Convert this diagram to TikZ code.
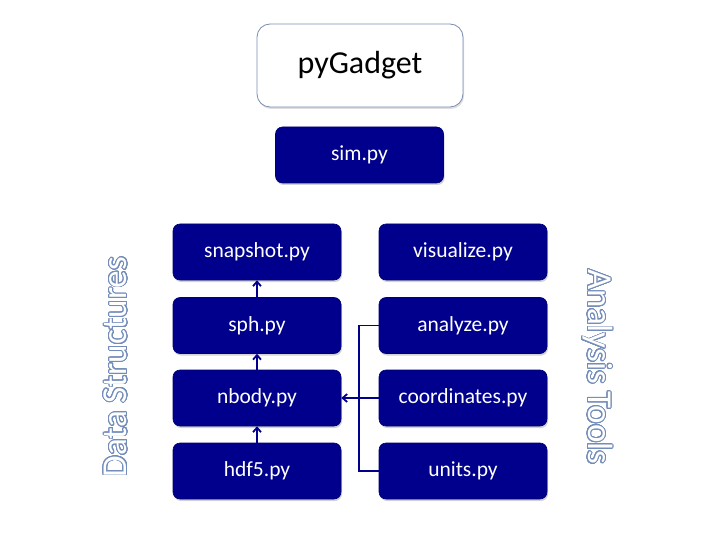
\documentclass[tikz,border=0pt]{standalone}
\usepackage{fontspec}
\setmainfont{Carlito}
\usepackage{contour}
\contournumber{32}
\contourlength{0.9pt}
\usetikzlibrary{arrows.meta,shadows}
\definecolor{navy}{RGB}{0,0,140}
\definecolor{outl}{RGB}{115,140,185}
\definecolor{topbd}{RGB}{120,140,180}
\newcommand{\outlined}[1]{\contour{outl}{\textcolor{white}{#1}}}
\begin{document}
\begin{tikzpicture}[x=1pt,y=-1pt,
  blue box/.style={draw=navy!80!black, line width=0.6pt, fill=navy, rounded corners=7pt,
    minimum width=168pt, minimum height=56pt, text=white, font=\fontsize{21.5}{26}\selectfont,
    inner sep=0pt, drop shadow={opacity=0.35, shadow xshift=1pt, shadow yshift=-2pt}},
  link/.style={draw=navy, line width=1.8pt},
  arr/.style={link, -{Straight Barb[length=4.5pt,width=8pt]}}]
\useasboundingbox (0,0) rectangle (720,540);
\node[draw=topbd, line width=0.8pt, fill=white, rounded corners=13pt, minimum width=206pt,
  minimum height=83pt, inner sep=0pt, font=\fontsize{32}{36}\selectfont,
  drop shadow={opacity=0.25, shadow xshift=1pt, shadow yshift=-2pt}] (top) at (360,65.5) {pyGadget};
\node[blue box] (sim) at (359.5,155) {sim.py};
\node[blue box] (snap) at (257,252) {snapshot.py};
\node[blue box] (vis) at (463,252) {visualize.py};
\node[blue box] (sph) at (257,325.5) {sph.py};
\node[blue box] (ana) at (463,325.5) {analyze.py};
\node[blue box] (nbody) at (257,398) {nbody.py};
\node[blue box] (coord) at (463,398) {coordinates.py};
\node[blue box] (hdf) at (257,471) {hdf5.py};
\node[blue box] (units) at (463,471) {units.py};
\draw[arr] (hdf.north) -- (nbody.south);
\draw[arr] (nbody.north) -- (sph.south);
\draw[arr] (sph.north) -- (snap.south);
\draw[link] (ana.west) -- ++(-20,0) coordinate (br) |- (units.west);
\draw[arr] (coord.west) -- (nbody.east);
\node[rotate=90, font=\fontsize{35}{40}\selectfont, inner sep=0pt] (ds) at (116,367) {\outlined{Data Structures}};
\node[rotate=-90, font=\fontsize{35}{40}\selectfont, inner sep=0pt] (at) at (597,367) {\outlined{Analysis Tools}};
\end{tikzpicture}
\end{document}
